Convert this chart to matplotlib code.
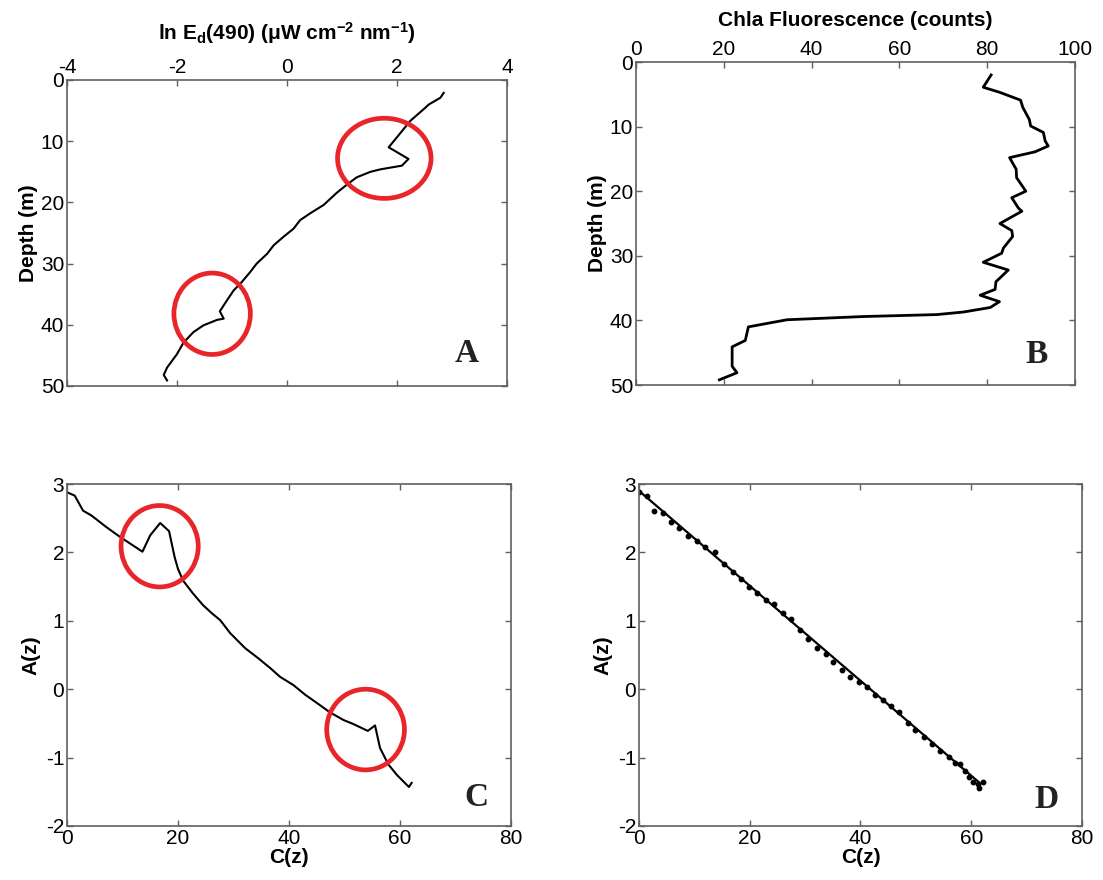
import numpy as np
import matplotlib
matplotlib.use("Agg")
import matplotlib.pyplot as plt
from matplotlib.patches import Ellipse

plt.rcParams['font.family'] = ['Liberation Sans', 'DejaVu Sans']
plt.rcParams['axes.unicode_minus'] = False
plt.rcParams['mathtext.fontset'] = 'custom'
plt.rcParams['mathtext.rm'] = 'Liberation Sans:bold'
plt.rcParams['mathtext.it'] = 'Liberation Sans:bold'
plt.rcParams['mathtext.bf'] = 'Liberation Sans:bold'

# downwelling irradiance profile (ln Ed(490) vs depth)
ed_ln = [2.85, 2.79, 2.58, 2.52, 2.24, 2.06, 1.85, 2.21, 2.09, 1.70, 1.52, 1.27, 1.09,
         0.91, 0.73, 0.67, 0.42, 0.24, 0.12, -0.06, -0.24, -0.36, -0.55, -0.67, -0.82,
         -0.97, -1.09, -1.22, -1.15, -1.27, -1.52, -1.70, -1.88, -2.00, -2.18, -2.24, -2.18]
ed_depth = [2.1, 2.9, 4.0, 4.5, 6.7, 8.7, 11.0, 12.9, 14.0, 14.6, 15.0, 15.9, 17.1,
            18.4, 19.9, 20.4, 21.8, 22.9, 24.3, 25.6, 27.0, 28.4, 30.0, 31.4, 33.0,
            34.4, 36.0, 37.8, 39.0, 39.2, 40.1, 41.2, 42.9, 44.8, 47.0, 48.2, 49.1]

# chlorophyll fluorescence profile
fl_counts = [80.9, 79.1, 82.9, 87.6, 88.1, 89.6, 89.9, 92.8, 93.2, 93.9, 90.9, 85.1,
             86.6, 86.7, 88.8, 85.6, 87.1, 87.9, 82.9, 85.6, 85.8, 83.7, 83.3, 79.1,
             84.8, 82.8, 82.0, 81.8, 78.4, 82.8, 80.7, 74.6, 68.5, 51.8, 34.4, 25.6,
             24.9, 21.9, 21.9, 23.0, 19.0]
fl_depth = [2.0, 3.9, 4.7, 5.9, 7.0, 8.9, 9.9, 10.9, 12.2, 13.0, 13.9, 14.8,
            16.6, 17.9, 20.0, 21.0, 22.6, 23.1, 25.0, 26.1, 27.0, 28.8, 29.6, 31.0,
            32.2, 33.5, 34.0, 35.2, 36.1, 37.1, 38.0, 38.7, 39.1, 39.4, 39.9, 41.0,
            43.1, 44.1, 47.1, 48.1, 49.2]

# A(z) vs C(z), raw
cz_raw = [0.0, 1.4, 2.9, 4.4, 7.1, 9.5, 13.6, 15.0, 16.8, 18.4, 19.4, 20.0, 20.9,
          22.7, 24.5, 26.1, 27.6, 29.4, 32.1, 34.5, 36.6, 38.4, 40.8, 42.9, 45.0,
          47.4, 49.8, 51.6, 54.2, 55.5, 56.4, 57.9, 59.4, 61.6, 62.1]
az_raw = [2.88, 2.83, 2.61, 2.54, 2.37, 2.23, 2.01, 2.25, 2.43, 2.31, 1.93, 1.76, 1.59,
          1.40, 1.23, 1.11, 1.01, 0.82, 0.60, 0.45, 0.31, 0.18, 0.06, -0.08, -0.20,
          -0.34, -0.45, -0.51, -0.61, -0.53, -0.86, -1.10, -1.25, -1.43, -1.37]

# A(z) vs C(z), corrected points and linear fit
cz_fit = [0.0, 1.4, 2.8, 4.3, 5.8, 7.3, 8.8, 10.5, 12.0, 13.7, 15.3, 16.9, 18.4, 19.9,
          21.4, 22.9, 24.4, 26.0, 27.5, 29.0, 30.6, 32.1, 33.7, 35.1, 36.6, 38.1,
          39.7, 41.2, 42.7, 44.0, 45.5, 47.0, 48.6, 49.9, 51.4, 52.9, 54.4, 56.0,
          57.0, 57.9, 58.8, 59.6, 60.4, 61.2, 61.5, 62.1]
az_fit = [2.88, 2.83, 2.61, 2.57, 2.45, 2.35, 2.24, 2.17, 2.08, 2.01, 1.83, 1.72, 1.61,
          1.50, 1.41, 1.30, 1.24, 1.12, 1.02, 0.86, 0.73, 0.60, 0.52, 0.40, 0.28, 0.18,
          0.11, 0.03, -0.08, -0.16, -0.24, -0.33, -0.50, -0.59, -0.70, -0.80, -0.91,
          -0.99, -1.08, -1.10, -1.20, -1.28, -1.35, -1.39, -1.44, -1.36]
fit_intercept = 2.90
fit_slope = -0.0694

# highlighted regions: (centre x, centre y, width, height)
circles_a = [(1.77, 12.8, 1.70, 13.1), (-1.36, 38.2, 1.39, 13.3)]
circles_c = [(16.7, 2.09, 13.9, 1.19), (53.8, -0.59, 14.0, 1.18)]

frame_col = '#606060'
red = '#e8262a'
tick_fs = 15
lab_fs = 15


def style_axes(ax):
    for s in ax.spines.values():
        s.set_color(frame_col)
        s.set_linewidth(1.2)
    ax.tick_params(direction='in', length=4, width=1, color=frame_col,
                   top=True, right=True, labelsize=tick_fs, pad=2)


def panel_letter(ax, letter, x, y):
    ax.text(x, y, letter, transform=ax.transAxes, ha='center', va='center',
            fontsize=24, fontweight='bold', family='Liberation Serif', color='#222222')


def add_circles(ax, circles):
    for cx, cy, w, h in circles:
        ax.add_patch(Ellipse((cx, cy), w, h, fill=False, edgecolor=red, lw=3.4, zorder=3))


fig = plt.figure(figsize=(11.03, 8.8), dpi=100)

# A: irradiance profile
axA = fig.add_axes([0.0607, 0.5614, 0.3989, 0.3477])
axA.plot(ed_ln, ed_depth, color='black', lw=1.5)
add_circles(axA, circles_a)
axA.set_xlim(-4, 4)
axA.set_ylim(50, 0)
axA.set_xticks([-4, -2, 0, 2, 4])
axA.set_yticks([0, 10, 20, 30, 40, 50])
style_axes(axA)
axA.tick_params(labeltop=True, labelbottom=False)
axA.xaxis.set_label_position('top')
axA.set_xlabel(r'ln E$_{\mathrm{d}}$(490) (μW cm$^{\mathrm{-2}}$ nm$^{\mathrm{-1}}$)',
               fontsize=lab_fs, fontweight='bold', labelpad=13)
axA.set_ylabel('Depth (m)', fontsize=lab_fs, fontweight='bold', labelpad=2)
panel_letter(axA, 'A', 0.909, 0.105)

# B: fluorescence profile
axB = fig.add_axes([0.5766, 0.5625, 0.398, 0.3670])
axB.plot(fl_counts, fl_depth, color='black', lw=2.0)
axB.set_xlim(0, 100)
axB.set_ylim(50, 0)
axB.set_xticks([0, 20, 40, 60, 80, 100])
axB.set_yticks([0, 10, 20, 30, 40, 50])
style_axes(axB)
axB.tick_params(labeltop=True, labelbottom=False)
axB.xaxis.set_label_position('top')
axB.set_xlabel('Chla Fluorescence (counts)', fontsize=lab_fs, fontweight='bold', labelpad=10)
axB.set_ylabel('Depth (m)', fontsize=lab_fs, fontweight='bold', labelpad=2)
panel_letter(axB, 'B', 0.913, 0.093)

# C: A(z) vs C(z)
axC = fig.add_axes([0.0607, 0.0614, 0.4026, 0.3886])
axC.plot(cz_raw, az_raw, color='black', lw=1.5)
add_circles(axC, circles_c)
axC.set_xlim(0, 80)
axC.set_ylim(-2, 3)
axC.set_xticks([0, 20, 40, 60, 80])
axC.set_yticks([-2, -1, 0, 1, 2, 3])
style_axes(axC)
axC.set_xlabel('C(z)', fontsize=lab_fs, fontweight='bold', labelpad=0)
axC.set_ylabel('A(z)', fontsize=lab_fs, fontweight='bold', labelpad=4)
panel_letter(axC, 'C', 0.921, 0.082)

# D: corrected points with linear fit
axD = fig.add_axes([0.5793, 0.0614, 0.4016, 0.3886])
cz_line = np.array([cz_fit[0], cz_fit[-2]])
axD.plot(cz_line, fit_intercept + fit_slope * cz_line, color='black', lw=1.6)
axD.plot(cz_fit, az_fit, linestyle='none', marker='o', ms=3.2, color='black')
axD.set_xlim(0, 80)
axD.set_ylim(-2, 3)
axD.set_xticks([0, 20, 40, 60, 80])
axD.set_yticks([-2, -1, 0, 1, 2, 3])
style_axes(axD)
axD.set_xlabel('C(z)', fontsize=lab_fs, fontweight='bold', labelpad=0)
axD.set_ylabel('A(z)', fontsize=lab_fs, fontweight='bold', labelpad=4)
panel_letter(axD, 'D', 0.921, 0.076)

fig.savefig('out.png', dpi=100)
